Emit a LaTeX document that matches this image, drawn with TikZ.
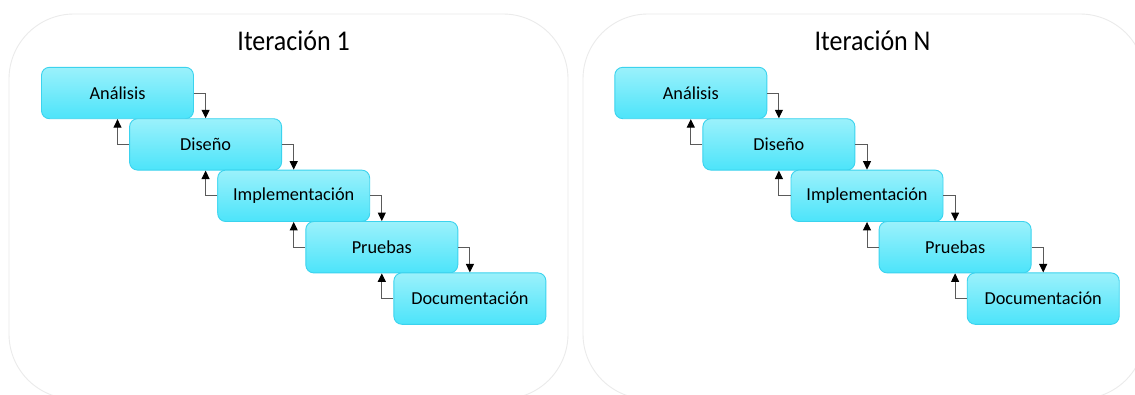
\documentclass[tikz,border=0pt]{standalone}
\usepackage{fontspec}
\setmainfont{Carlito}
\usetikzlibrary{arrows.meta}
\definecolor{boxtop}{HTML}{9BF1FB}
\definecolor{boxbot}{HTML}{4CE4FA}
\definecolor{boxline}{HTML}{3BD3EE}
\definecolor{connline}{HTML}{5A5A5A}
\definecolor{framecol}{HTML}{EBEBEB}
\begin{document}
\begin{tikzpicture}[x=1pt,y=-1pt,
  phase/.style={rectangle, rounded corners=8pt, minimum width=152pt, minimum height=51.4pt,
    inner sep=0pt, draw=boxline, line width=0.9pt, top color=boxtop, bottom color=boxbot,
    font=\fontsize{18.3}{21}\selectfont, text=black},
  conn/.style={draw=connline, line width=1pt, -{Triangle[width=8pt,length=8.5pt,color=black]}},
  frame/.style={draw=framecol, line width=0.9pt, rounded corners=65pt},
  title/.style={font=\fontsize{26}{29}\selectfont, anchor=base, inner sep=0pt}]
\useasboundingbox (0,0) rectangle (1135,394);
\clip (0,0) rectangle (1135,394);
\fill[white] (0,0) rectangle (1135,394);
\draw[frame] (9,14) rectangle (568,399);
\draw[frame] (583,14) rectangle (1145,399);
\node[title] (t1) at (293.6,50.5) {\scalebox{1}[1.1]{Iteración 1}};
\node[title] (tN) at (872.6,50.5) {\scalebox{1}[1.1]{Iteración N}};
\foreach \k/\ox in {1/0, N/573.3} {
  \node[phase] (a\k) at (117.5+\ox, 93) {Análisis};
  \node[phase] (d\k) at (205.6+\ox, 144.4) {Diseño};
  \node[phase] (i\k) at (293.7+\ox, 195.8) {Implementación};
  \node[phase] (p\k) at (381.8+\ox, 247.2) {Pruebas};
  \node[phase] (c\k) at (469.9+\ox, 298.6) {Documentación};
  \draw[conn] (a\k.east) -| (d\k.north);
  \draw[conn] (d\k.east) -| (i\k.north);
  \draw[conn] (i\k.east) -| (p\k.north);
  \draw[conn] (p\k.east) -| (c\k.north);
  \draw[conn] (d\k.west) -| (a\k.south);
  \draw[conn] (i\k.west) -| (d\k.south);
  \draw[conn] (p\k.west) -| (i\k.south);
  \draw[conn] (c\k.west) -| (p\k.south);
}
\end{tikzpicture}
\end{document}
